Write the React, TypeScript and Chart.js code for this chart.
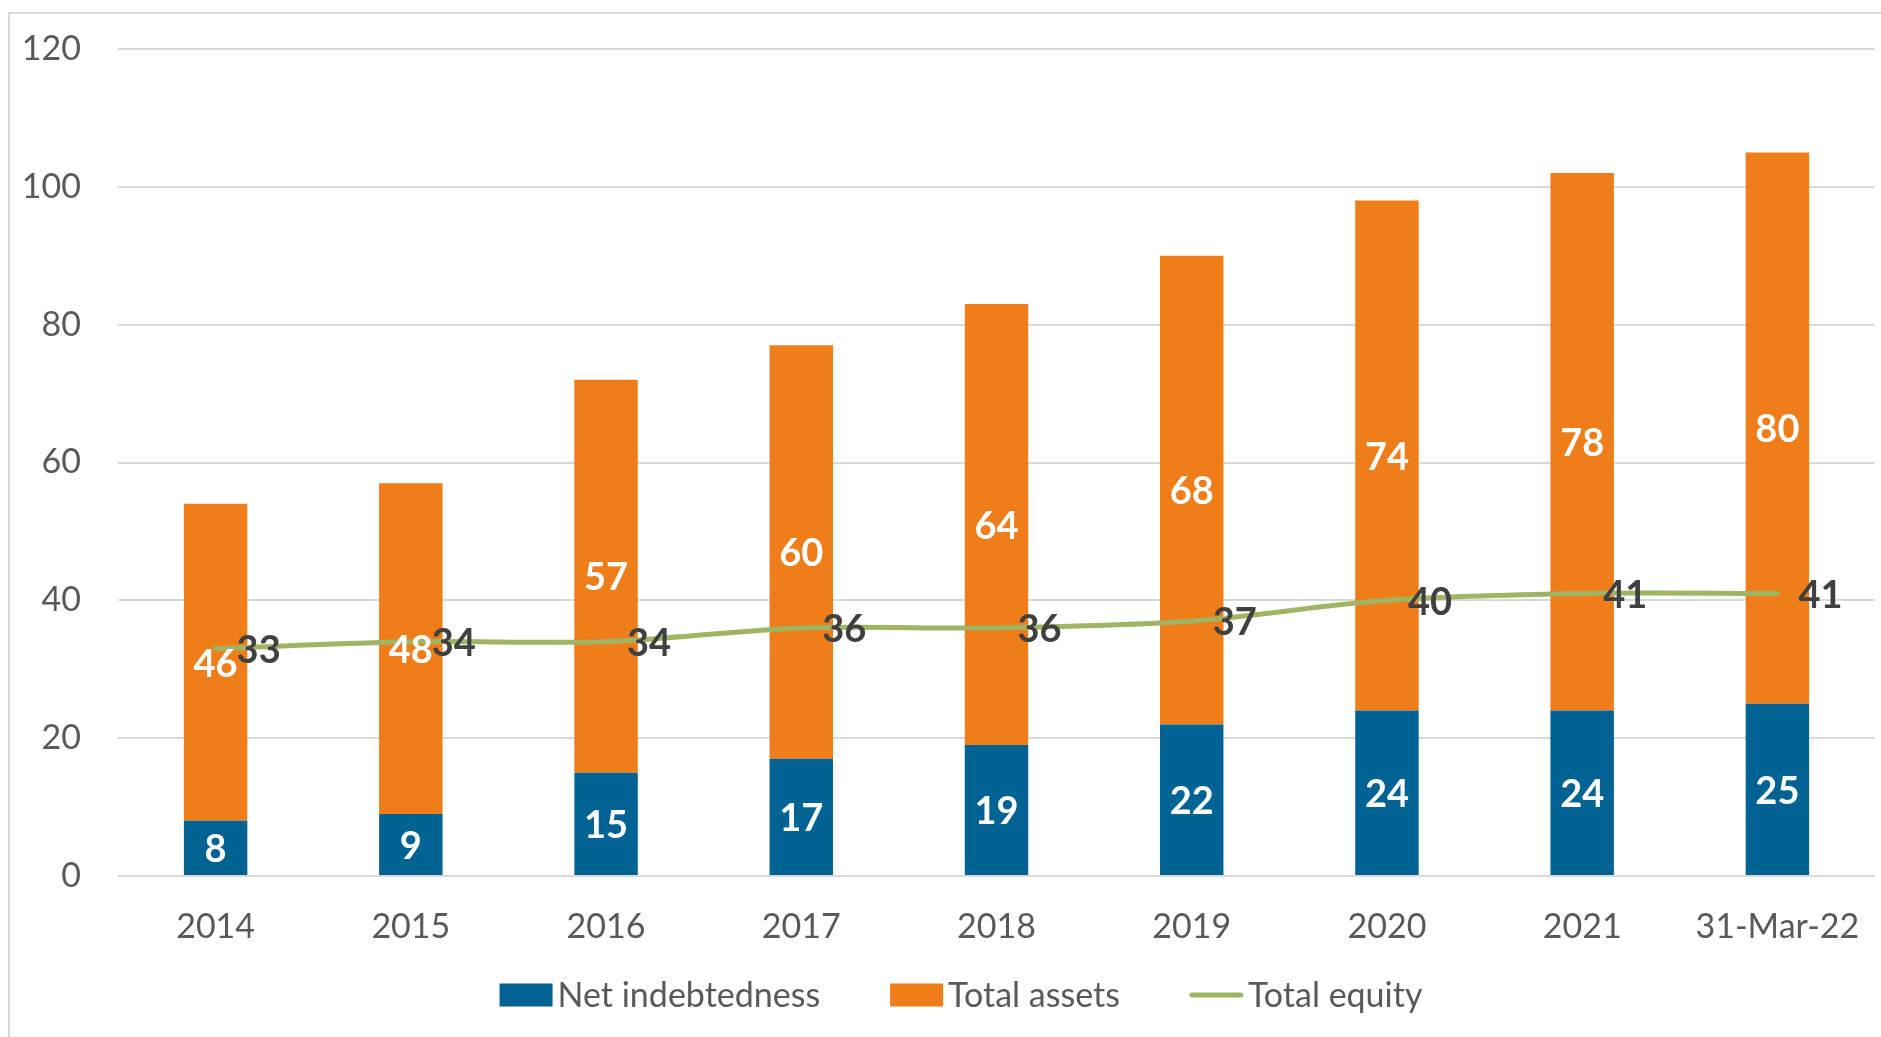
import React, { useEffect, useRef } from 'react';
import { Chart, registerables } from 'chart.js';

Chart.register(...registerables);

// ---- Data ----
const categories = ['2014', '2015', '2016', '2017', '2018', '2019', '2020', '2021', '31-Mar-22'];
const netIndebtedness = [8, 9, 15, 17, 19, 22, 24, 24, 25];
const totalAssets = [46, 48, 57, 60, 64, 68, 74, 78, 80];
const totalEquity = [33, 34, 34, 36, 36, 37, 40, 41, 41];
const seriesNames = ['Net indebtedness', 'Total assets', 'Total equity'];
const yMin = 0;
const yMax = 120;
const yStep = 20;

// ---- Style ----
const FONT = 'Lato, "Open Sans", sans-serif';
const BLUE = '#006394';
const ORANGE = '#EE7D1A';
const GREEN = '#A0B563';
const TEXT = '#595959';
const GRID = '#D9D9D9';
const LABEL_DARK = '#404040';

const valueLabels = {
  id: 'valueLabels',
  afterDatasetsDraw(chart: any) {
    const { ctx } = chart;
    ctx.save();
    ctx.font = `bold 38px ${FONT}`;
    ctx.textBaseline = 'middle';
    chart.data.datasets.forEach((ds: any, i: number) => {
      const meta = chart.getDatasetMeta(i);
      meta.data.forEach((el: any, j: number) => {
        const v = ds.data[j];
        if (ds.type === 'line') {
          ctx.fillStyle = LABEL_DARK;
          ctx.textAlign = 'left';
          ctx.fillText(String(v), el.x + 21, el.y + 2);
        } else {
          const p = el.getProps(['x', 'y', 'base'], true);
          ctx.fillStyle = '#FFFFFF';
          ctx.textAlign = 'center';
          ctx.fillText(String(v), p.x, (p.y + p.base) / 2 + 2);
        }
      });
    });
    ctx.restore();
  },
};

const customLegend = {
  id: 'customLegend',
  afterDraw(chart: any) {
    const { ctx } = chart;
    ctx.save();
    ctx.font = `34px ${FONT}`;
    ctx.textBaseline = 'middle';
    ctx.textAlign = 'left';
    const boxW = 53;
    const boxH = 23;
    const gapText = 5;
    const gapItem = 70;
    const items = chart.data.datasets.map((ds: any) => ({
      text: ds.label,
      isLine: ds.type === 'line',
      color: ds.type === 'line' ? ds.borderColor : ds.backgroundColor,
      w: ctx.measureText(ds.label).width,
    }));
    const total = items.reduce((s: number, it: any) => s + boxW + gapText + it.w, 0) + gapItem * (items.length - 1);
    const cx = 951;
    const cy = 981;
    let x = cx - total / 2;
    items.forEach((it: any) => {
      if (it.isLine) {
        ctx.strokeStyle = it.color;
        ctx.lineWidth = 5;
        ctx.lineCap = 'round';
        ctx.beginPath();
        ctx.moveTo(x + 2, cy);
        ctx.lineTo(x + boxW - 2, cy);
        ctx.stroke();
      } else {
        ctx.fillStyle = it.color;
        ctx.fillRect(x, cy - boxH / 2, boxW, boxH);
      }
      x += boxW + gapText;
      ctx.fillStyle = TEXT;
      ctx.fillText(it.text, x, cy + 1);
      x += it.w + gapItem;
    });
    ctx.restore();
  },
};

export default function App() {
  const ref = useRef<HTMLCanvasElement>(null);

  useEffect(() => {
    const chart = new Chart(ref.current as HTMLCanvasElement, {
      type: 'bar',
      data: {
        labels: categories,
        datasets: [
          {
            type: 'bar',
            label: seriesNames[0],
            data: netIndebtedness,
            backgroundColor: BLUE,
            borderWidth: 0,
            stack: 'bars',
            order: 1,
            barPercentage: 0.325,
            categoryPercentage: 1,
          },
          {
            type: 'bar',
            label: seriesNames[1],
            data: totalAssets,
            backgroundColor: ORANGE,
            borderWidth: 0,
            stack: 'bars',
            order: 1,
            barPercentage: 0.325,
            categoryPercentage: 1,
          },
          {
            type: 'line',
            label: seriesNames[2],
            data: totalEquity,
            borderColor: GREEN,
            backgroundColor: GREEN,
            borderWidth: 5,
            borderCapStyle: 'round',
            pointRadius: 0,
            tension: 0.3,
            stack: 'equity',
            order: 0,
          },
        ] as any,
      },
      options: {
        responsive: false,
        animation: false,
        layout: { padding: { top: 35, right: 37, bottom: 81, left: 0 } },
        plugins: {
          legend: { display: false },
          tooltip: { enabled: false },
        },
        scales: {
          x: {
            stacked: true,
            grid: { display: false, drawTicks: false },
            border: { display: false },
            ticks: { color: TEXT, font: { family: FONT, size: 34 }, padding: 31, maxRotation: 0 },
            afterFit: (s: any) => {
              s.height = 80;
            },
          },
          y: {
            stacked: true,
            min: yMin,
            max: yMax,
            ticks: { stepSize: yStep, color: TEXT, font: { family: FONT, size: 34 }, padding: 37 },
            grid: { color: GRID, lineWidth: 2, drawTicks: false },
            border: { display: false },
            afterFit: (s: any) => {
              s.width = 108;
              s.paddingTop = 0;
              s.paddingBottom = 0;
            },
          },
        },
      } as any,
      plugins: [valueLabels, customLegend],
    });
    return () => chart.destroy();
  }, []);

  return (
    <div style={{ position: 'fixed', left: 0, top: 0, width: '100vw', height: '100vh', overflow: 'hidden', background: '#fff' }}>
      <div
        style={{
          position: 'absolute',
          left: 8,
          top: 12,
          width: 1902,
          height: 1023,
          border: '2px solid #D9D9D9',
          background: '#fff',
        }}
      >
        <canvas ref={ref} width={1902} height={1023} style={{ display: 'block', width: 1902, height: 1023 }} />
      </div>
    </div>
  );
}
